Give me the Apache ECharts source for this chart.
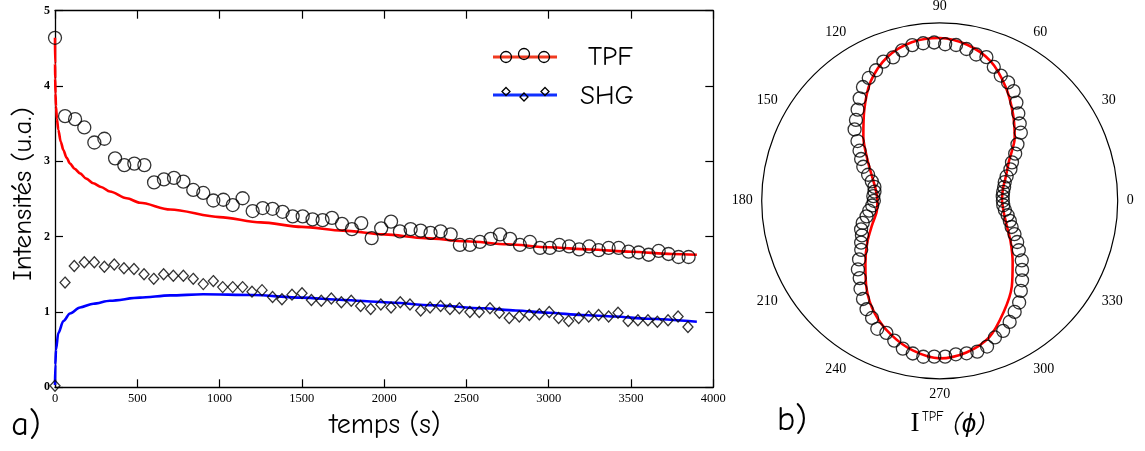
<!DOCTYPE html>
<html><head><meta charset="utf-8">
<script src="https://cdn.jsdelivr.net/npm/echarts@6/dist/echarts.min.js"></script>
<style>html,body{margin:0;padding:0;background:#fff}#c{width:1145px;height:451px}</style>
</head><body><div id="c"></div>
<script>
// ---- left panel: time series ----
var xTicks = [0, 500, 1000, 1500, 2000, 2500, 3000, 3500, 4000];
var yTicks = [0, 1, 2, 3, 4, 5];
var tpfT = [0,61,122,178,239,300,365,421,482,543,602,662,723,780,840,901,962,1023,1080,1140,1201,1262,1322,1383,1444,1505,1565,1626,1683,1744,1804,1861,1924,1982,2042,2096,2161,2222,2282,2343,2404,2460,2521,2582,2647,2704,2765,2825,2886,2947,3007,3064,3124,3185,3246,3303,3364,3425,3485,3546,3607,3668,3728,3789,3850];
var tpfV = [4.64,3.60,3.56,3.45,3.25,3.30,3.04,2.95,2.97,2.95,2.72,2.76,2.78,2.73,2.62,2.58,2.48,2.49,2.42,2.51,2.34,2.38,2.37,2.33,2.27,2.27,2.23,2.22,2.25,2.17,2.10,2.18,1.98,2.11,2.20,2.07,2.10,2.08,2.05,2.07,2.03,1.89,1.89,1.93,1.97,2.03,1.97,1.89,1.93,1.85,1.85,1.89,1.87,1.83,1.87,1.82,1.85,1.85,1.80,1.79,1.76,1.81,1.77,1.73,1.73];
var shgT = [0,61,117,178,239,300,360,419,480,541,600,660,719,780,840,901,962,1019,1080,1140,1197,1258,1322,1379,1440,1501,1558,1618,1679,1740,1800,1857,1918,1980,2042,2098,2157,2222,2279,2343,2400,2457,2521,2578,2643,2700,2760,2821,2882,2943,3003,3060,3121,3182,3243,3303,3364,3421,3482,3542,3603,3660,3725,3786,3846];
var shgV = [0.02,1.39,1.61,1.66,1.66,1.60,1.63,1.58,1.57,1.50,1.44,1.50,1.48,1.48,1.44,1.37,1.41,1.33,1.33,1.33,1.27,1.29,1.20,1.17,1.23,1.25,1.16,1.15,1.18,1.13,1.15,1.08,1.04,1.10,1.06,1.13,1.10,1.02,1.06,1.08,1.04,1.05,1.00,1.00,1.05,0.99,0.92,0.94,0.96,0.97,1.00,0.92,0.88,0.92,0.94,0.96,0.94,0.99,0.88,0.89,0.89,0.87,0.89,0.94,0.80];
var tpfFitT = [0,0.5,1,3,6,12,20,35,51,70,91,120,152,190,233,280,334,436,516,700,1000,1250,1500,1750,2000,2250,2500,2750,3000,3250,3500,3750,3900];
var tpfFitV = [4.64,4.3,4.1,3.9,3.73,3.56,3.42,3.26,3.15,3.05,2.97,2.90,2.84,2.77,2.71,2.66,2.60,2.51,2.45,2.36,2.26,2.19,2.13,2.08,2.03,1.98,1.94,1.90,1.86,1.83,1.80,1.77,1.76];
var shgFitT = [0,2,6,20,51,91,152,233,334,516,700,900,1200,1500,1750,2000,2300,2600,2800,3000,3200,3400,3600,3900];
var shgFitV = [0.03,0.30,0.50,0.72,0.88,0.98,1.06,1.11,1.15,1.19,1.22,1.235,1.225,1.19,1.16,1.13,1.09,1.05,1.02,0.99,0.96,0.94,0.91,0.87];

// ---- right panel: polar ----
var angleTicks = [0,30,60,90,120,150,180,210,240,270,300,330];
var polarAngles = [0,4,8,12,16,20,24,28,32,36,40,44,48,52,56,60,64,68,72,76,80,84,88,92,96,100,104,108,112,116,120,124,128,132,136,140,144,148,152,156,160,164,168,172,176,180,184,188,192,196,200,204,208,212,216,220,224,228,232,236,240,244,248,252,256,260,264,268,272,276,280,284,288,292,296,300,304,308,312,316,320,324,328,332,336,340,344,348,352,356];
var polarR = [0.355,0.355,0.36,0.37,0.38,0.40,0.435,0.46,0.50,0.54,0.595,0.625,0.66,0.70,0.743,0.768,0.783,0.811,0.849,0.847,0.866,0.88,0.88,0.89,0.89,0.888,0.871,0.847,0.843,0.816,0.797,0.771,0.73,0.689,0.654,0.624,0.571,0.531,0.50,0.47,0.428,0.397,0.375,0.37,0.374,0.37,0.38,0.40,0.42,0.45,0.47,0.478,0.50,0.52,0.56,0.60,0.625,0.665,0.70,0.735,0.76,0.80,0.80,0.826,0.856,0.871,0.881,0.876,0.876,0.867,0.87,0.873,0.861,0.828,0.813,0.786,0.753,0.725,0.681,0.643,0.604,0.57,0.524,0.493,0.46,0.43,0.41,0.39,0.37,0.358];
var polarFitAngles = [0,10,20,30,40,50,60,70,80,90,100,110,120,130,140,150,160,170,180,190,200,210,220,230,240,250,260,270,280,290,300,310,320,330,340,350,360];
var polarFitR = [0.35,0.36,0.395,0.45,0.55,0.64,0.74,0.835,0.89,0.915,0.905,0.86,0.775,0.66,0.56,0.47,0.405,0.365,0.35,0.36,0.405,0.47,0.545,0.64,0.73,0.80,0.855,0.885,0.865,0.815,0.72,0.63,0.535,0.46,0.40,0.365,0.35];

function pairs(a, b) { return a.map(function (v, i) { return [v, b[i]]; }); }
function polarPairs(ang, r) { return ang.map(function (v, i) { return [r[i], v]; }); }

var COMIC = "'Comic Sans MS','Comic Neue','Open Sans',sans-serif";
var SERIF = "'Liberation Serif','Times New Roman',serif";
var hollow = { color: 'rgba(0,0,0,0)', borderColor: '#000', borderWidth: 1.3 };

var chart = echarts.init(document.getElementById('c'), null, { renderer: 'canvas' });
var option = {
  backgroundColor: '#fff',
  animation: false,
  grid: { left: 55, top: 10.7, width: 658.3, height: 376.6, containLabel: false },
  xAxis: [
    { type: 'value', min: 0, max: 4000, interval: 500, position: 'bottom',
      axisLine: { lineStyle: { color: '#000', width: 1.3 } },
      axisTick: { inside: true, length: 8, lineStyle: { color: '#000', width: 1.2 } },
      axisLabel: { color: '#000', fontFamily: SERIF, fontSize: 12.5, margin: 5,
        formatter: function (v) { return xTicks.indexOf(v) >= 0 ? String(v) : ''; } },
      splitLine: { show: false } },
    { type: 'value', min: 0, max: 4000, interval: 500, position: 'top',
      axisLine: { onZero: false, lineStyle: { color: '#000', width: 1.3 } },
      axisTick: { inside: true, length: 8, lineStyle: { color: '#000', width: 1.2 } },
      axisLabel: { show: false }, splitLine: { show: false } }
  ],
  yAxis: [
    { type: 'value', min: 0, max: 5, interval: 1, position: 'left',
      axisLine: { show: true, lineStyle: { color: '#000', width: 1.3 } },
      axisTick: { show: true, inside: true, length: 8, lineStyle: { color: '#000', width: 1.2 } },
      axisLabel: { color: '#000', fontFamily: SERIF, fontWeight: 'bold', fontSize: 12, margin: 5,
        formatter: function (v) { return yTicks.indexOf(v) >= 0 ? String(v) : ''; } },
      splitLine: { show: false } },
    { type: 'value', min: 0, max: 5, interval: 1, position: 'right',
      axisLine: { show: true, onZero: false, lineStyle: { color: '#000', width: 1.3 } },
      axisTick: { show: true, inside: true, length: 8, lineStyle: { color: '#000', width: 1.2 } },
      axisLabel: { show: false }, splitLine: { show: false } }
  ],
  polar: { center: [939.7, 200.8], radius: 178 },
  angleAxis: { type: 'value', min: 0, max: 360, interval: 30, startAngle: 0, clockwise: false,
    axisLine: { show: true, lineStyle: { color: '#000', width: 1.2 } },
    axisTick: { show: false }, splitLine: { show: false },
    axisLabel: { color: '#000', fontFamily: SERIF, fontSize: 14, margin: 9,
      formatter: function (v) { return (v < 360 && angleTicks.indexOf(v) >= 0) ? String(v) : ''; } } },
  radiusAxis: { type: 'value', min: 0, max: 1, show: false,
    axisLine: { show: false }, axisTick: { show: false }, axisLabel: { show: false }, splitLine: { show: false } },
  series: [
    { name: 'TPF fit', type: 'line', xAxisIndex: 0, yAxisIndex: 0, data: pairs(tpfFitT, tpfFitV),
      smooth: 0.3, smoothMonotone: 'x', showSymbol: false, lineStyle: { color: '#ff0000', width: 2.6 }, z: 2 },
    { name: 'SHG fit', type: 'line', xAxisIndex: 0, yAxisIndex: 0, data: pairs(shgFitT, shgFitV),
      smooth: 0.3, smoothMonotone: 'x', showSymbol: false, lineStyle: { color: '#0000ff', width: 2.6 }, z: 2 },
    { name: 'TPF', type: 'scatter', xAxisIndex: 0, yAxisIndex: 0, data: pairs(tpfT, tpfV),
      symbol: 'circle', symbolSize: 13, itemStyle: hollow, z: 3 },
    { name: 'SHG', type: 'scatter', xAxisIndex: 0, yAxisIndex: 0, data: pairs(shgT, shgV),
      symbol: 'diamond', symbolSize: [10, 11], itemStyle: hollow, z: 3 },
    { name: 'I TPF fit', type: 'line', coordinateSystem: 'polar', data: polarPairs(polarFitAngles, polarFitR),
      smooth: 0.3, showSymbol: false, lineStyle: { color: '#ff0000', width: 2.6 }, z: 2 },
    { name: 'I TPF', type: 'scatter', coordinateSystem: 'polar', data: polarPairs(polarAngles, polarR),
      symbol: 'circle', symbolSize: 13, itemStyle: hollow, z: 3 }
  ],
  graphic: [
    // legend
    { type: 'line', shape: { x1: 493, y1: 57, x2: 557, y2: 57 }, style: { stroke: '#f03a20', lineWidth: 3 } },
    { type: 'circle', shape: { cx: 506, cy: 57, r: 5.5 }, style: { fill: 'none', stroke: '#000', lineWidth: 1.3 } },
    { type: 'circle', shape: { cx: 524, cy: 54, r: 5.5 }, style: { fill: 'none', stroke: '#000', lineWidth: 1.3 } },
    { type: 'circle', shape: { cx: 544, cy: 57, r: 5.5 }, style: { fill: 'none', stroke: '#000', lineWidth: 1.3 } },
    { type: 'text', x: 588, y: 57, style: { text: 'TPF', font: '27px ' + COMIC, fill: '#000', align: 'left', verticalAlign: 'middle' } },
    { type: 'line', shape: { x1: 493, y1: 95, x2: 557, y2: 95 }, style: { stroke: '#1030ff', lineWidth: 3 } },
    { type: 'polygon', shape: { points: [[506, 87.5], [510, 91.5], [506, 95.5], [502, 91.5]] }, style: { fill: 'none', stroke: '#000', lineWidth: 1.3 } },
    { type: 'polygon', shape: { points: [[524, 93], [528, 97], [524, 101], [520, 97]] }, style: { fill: 'none', stroke: '#000', lineWidth: 1.3 } },
    { type: 'polygon', shape: { points: [[545, 87.5], [549, 91.5], [545, 95.5], [541, 91.5]] }, style: { fill: 'none', stroke: '#000', lineWidth: 1.3 } },
    { type: 'text', x: 580, y: 96, style: { text: 'SHG', font: '27px ' + COMIC, fill: '#000', align: 'left', verticalAlign: 'middle' } },
    // axis titles and panel labels
    { type: 'text', x: 23, y: 194, rotation: Math.PI / 2,
      style: { text: 'Intensités (u.a.)', font: '27px ' + COMIC, fill: '#000', align: 'center', verticalAlign: 'middle' } },
    { type: 'text', x: 385, y: 425,
      style: { text: 'temps (s)', font: '28px ' + COMIC, fill: '#000', align: 'center', verticalAlign: 'middle' } },
    { type: 'text', x: 26, y: 425,
      style: { text: 'a)', font: '34px ' + COMIC, fill: '#000', align: 'center', verticalAlign: 'middle' } },
    { type: 'text', x: 792, y: 420,
      style: { text: 'b)', font: '34px ' + COMIC, fill: '#000', align: 'center', verticalAlign: 'middle' } },
    { type: 'text', x: 915, y: 424,
      style: { text: 'I', font: '27px ' + SERIF, fill: '#000', align: 'center', verticalAlign: 'middle' } },
    { type: 'text', x: 922, y: 417,
      style: { text: 'TPF', font: '13px ' + COMIC, fill: '#000', align: 'left', verticalAlign: 'middle' } },
    { type: 'text', x: 969, y: 425,
      style: { text: '(\u03d5)', font: 'italic 26px ' + COMIC, fill: '#000', align: 'center', verticalAlign: 'middle' } }
  ]
};
chart.setOption(option);
</script>
</body></html>
